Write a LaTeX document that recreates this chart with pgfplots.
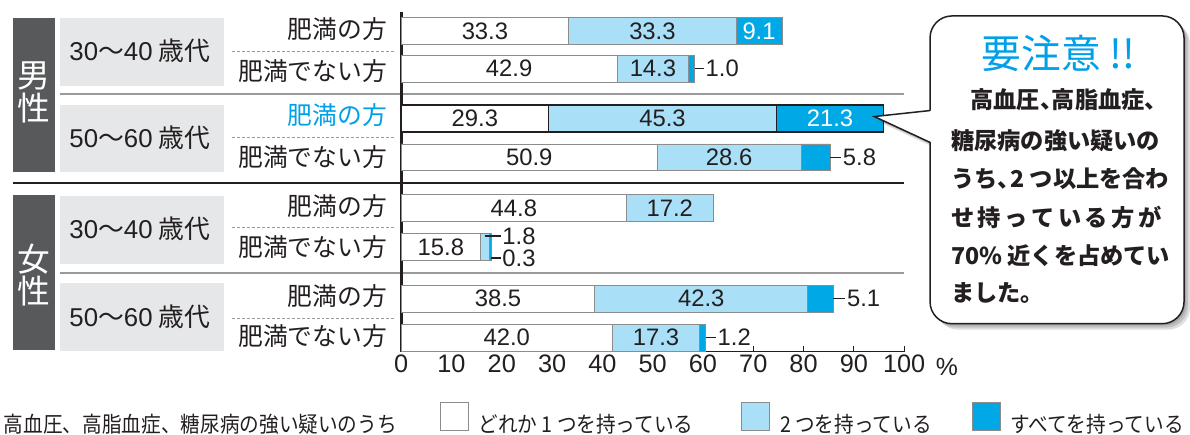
\documentclass[border=0pt]{standalone}
\usepackage{fontspec}
\setmainfont{Liberation Sans}
\newfontfamily\jp{Noto Sans CJK JP}
\newfontfamily\jpc{Noto Sans CJK JP}[FakeStretch=0.9]
\usepackage{pgfplots}
\pgfplotsset{compat=1.18}
\definecolor{txt}{HTML}{231F20}
\definecolor{lblue}{HTML}{A9DFF7}
\definecolor{dblue}{HTML}{00A9E6}
\definecolor{cyantext}{HTML}{00A0E9}
\definecolor{barline}{HTML}{8C8C8C}
\definecolor{darkbox}{HTML}{58595B}
\definecolor{lightbox}{HTML}{E6E7E8}
\definecolor{sepc}{HTML}{9A9A9A}
\newcommand{\fs}[1]{\fontsize{#1}{#1}\selectfont}
\newcommand{\gap}[1]{\rule{#1}{0pt}}
\pgfplotsset{
  base/.style={
    width=505bp, height=341bp, scale only axis,
    xmin=0, xmax=100, ymin=81, ymax=422,
    at={(400bp,81bp)}, anchor=south west,
  }
}
\begin{document}
\begin{tikzpicture}
\begin{scope}[x=1bp,y=1bp]
\path[use as bounding box] (0,0) rectangle (1190,434);
% group boxes
\fill[darkbox] (10,261) rectangle (52,416);
\fill[darkbox] (10,83) rectangle (52,238);
\fill[lightbox] (57,348) rectangle (222,416);
\fill[lightbox] (57,261) rectangle (222,329);
\fill[lightbox] (57,169) rectangle (222,237);
\fill[lightbox] (57,82) rectangle (222,150);
\node[white, font=\jp\fs{33}] at (31,358) {男};
\node[white, font=\jp\fs{33}] at (31,326) {性};
\node[white, font=\jp\fs{33}] at (31,174) {女};
\node[white, font=\jp\fs{33}] at (31,142) {性};
\node[txt, font=\jp\fs{26}] at (137.5,383) {{\rmfamily 30}～{\rmfamily 40} 歳代};
\node[txt, font=\jp\fs{26}] at (137.5,296) {{\rmfamily 50}～{\rmfamily 60} 歳代};
\node[txt, font=\jp\fs{26}] at (137.5,204) {{\rmfamily 30}～{\rmfamily 40} 歳代};
\node[txt, font=\jp\fs{26}] at (137.5,116) {{\rmfamily 50}～{\rmfamily 60} 歳代};
\node[txt, font=\jp\fs{25}, anchor=east, inner sep=0pt] at (386,405) {肥満の方};
\node[txt, font=\jp\fs{25}, anchor=east, inner sep=0pt] at (386,363) {肥満でない方};
\node[cyantext, font=\jp\fs{25}, anchor=east, inner sep=0pt] at (386,318) {肥満の方};
\node[txt, font=\jp\fs{25}, anchor=east, inner sep=0pt] at (386,276) {肥満でない方};
\node[txt, font=\jp\fs{25}, anchor=east, inner sep=0pt] at (386,227) {肥満の方};
\node[txt, font=\jp\fs{25}, anchor=east, inner sep=0pt] at (386,186) {肥満でない方};
\node[txt, font=\jp\fs{25}, anchor=east, inner sep=0pt] at (386,137) {肥満の方};
\node[txt, font=\jp\fs{25}, anchor=east, inner sep=0pt] at (386,97) {肥満でない方};
% separators
\draw[sepc, line width=2bp] (57,340) -- (905,340);
\draw[sepc, line width=2bp] (57,160) -- (905,160);
\draw[txt, line width=2.2bp] (10,250) -- (905,250);
\foreach \yy in {382,296,206,114}
  \draw[sepc, line width=0.8bp, dash pattern=on 3bp off 2bp] (230,\yy) -- (393,\yy);
\node[txt, font=\fs{25}] at (948,66) {\%};
\end{scope}

% main bars
\begin{axis}[base, xbar stacked, bar width=27bp,
  axis x line*=bottom, axis y line*=left,
  x axis line style={txt, line width=1.2bp},
  y axis line style={txt, line width=2.8bp},
  xtick={0,10,...,100}, ytick=\empty,
  tick align=inside, major tick length=6bp,
  xtick style={txt, line width=1bp},
  xticklabel style={font=\fs{25.5}, text=txt},
  /pgf/number format/assume math mode=true,
  legend columns=-1,
  legend image code/.code={\draw[#1, line width=0.8bp] (0bp,-6bp) rectangle (28bp,22bp);},
  legend style={at={(-0.798,-0.1965)}, anchor=west, draw=none, fill=none,
    inner sep=0pt, font=\jpc\fs{22}, text=txt,
    nodes={inner xsep=4bp, inner ysep=0pt}},
]
\addlegendimage{empty legend}
\addlegendentry{高血圧、高脂血症、糖尿病の強い疑いのうち\gap{39bp}}
\addplot[fill=white, draw=barline, line width=0.8bp] coordinates {(33.3,403) (42.9,365) (29.3,315) (50.9,276) (44.8,225) (15.8,186) (38.5,134) (42.0,95)};
\addlegendentry{\gap{6bp}どれか 1 つを持っている\gap{44bp}}
\addplot[fill=lblue, draw=barline, line width=0.8bp] coordinates {(33.3,403) (14.3,365) (45.3,315) (28.6,276) (17.2,225) (1.8,186) (42.3,134) (17.3,95)};
\addlegendentry{\gap{6bp}2 つを持っている\gap{36bp}}
\addplot[fill=dblue, draw=barline, line width=0.8bp] coordinates {(9.1,403) (1.0,365) (21.3,315) (5.8,276) (0,225) (0.3,186) (5.1,134) (1.2,95)};
\addlegendentry{\gap{6bp}すべてを持っている\kern-6bp}
\end{axis}

% highlighted row
\begin{axis}[base, xbar stacked, bar width=27bp, hide axis]
\addplot[fill=white, draw=txt, line width=1.6bp] coordinates {(29.3,315)};
\addplot[fill=lblue, draw=txt, line width=1.6bp] coordinates {(45.3,315)};
\addplot[fill=dblue, draw=txt, line width=1.6bp] coordinates {(21.3,315)};
\end{axis}

% value labels
\begin{axis}[base, hide axis, clip=false]
\addplot[draw=none, mark=none, nodes near coords, point meta=explicit symbolic,
  nodes near coords style={anchor=center, text=txt, font=\fs{24}, inner sep=0pt}]
  coordinates {(16.65,403)[33.3] (49.95,403)[33.3] (21.45,365)[42.9] (50.05,365)[14.3]
  (14.65,315)[29.3] (51.95,315)[45.3] (25.45,276)[50.9] (65.2,276)[28.6]
  (22.4,225)[44.8] (53.4,225)[17.2] (7.9,186)[15.8] (19.25,134)[38.5]
  (59.65,134)[42.3] (21.0,95)[42.0] (50.65,95)[17.3]};
\addplot[draw=none, mark=none, nodes near coords, point meta=explicit symbolic,
  nodes near coords style={anchor=center, text=white, font=\fs{24}, inner sep=0pt}]
  coordinates {(71.15,403)[9.1] (85.25,315)[21.3]};
\addplot[draw=none, mark=none, nodes near coords, point meta=explicit symbolic,
  nodes near coords style={anchor=west, text=txt, font=\fs{24}, inner xsep=1.5bp, inner ysep=0pt}]
  coordinates {(60.2,365)[1.0] (87.5,276)[5.8] (19.8,197)[1.8] (19.8,175)[0.3] (88.3,134)[5.1] (62.6,95)[1.2]};
\addplot[txt, line width=1.3bp, mark=none] coordinates {(58.4,365) (60.2,365)};
\addplot[txt, line width=1.3bp, mark=none] coordinates {(85.3,276) (87.5,276)};
\addplot[txt, line width=1.3bp, mark=none] coordinates {(16.6,197) (19.8,197)};
\addplot[txt, line width=1.3bp, mark=none] coordinates {(17.8,175) (19.8,175)};
\addplot[txt, line width=1.3bp, mark=none] coordinates {(85.9,134) (88.3,134)};
\addplot[txt, line width=1.3bp, mark=none] coordinates {(60.6,95) (62.6,95)};
\end{axis}

% callout
\begin{scope}[x=1bp,y=1bp]
\foreach \d in {2,4,6}{
  \fill[black, opacity=0.13, rounded corners=22bp] (931+\d,109-\d) rectangle (1186+\d,418-\d);
  \fill[black, opacity=0.10] (931+\d,323-\d) -- (875+\d,317-\d) -- (931+\d,291-\d) -- cycle;
}
\draw[txt, line width=1.5bp, fill=white, rounded corners=22bp] (931,109) rectangle (1186,418);
\fill[white] (932.6,323) -- (875,317) -- (932.6,291) -- cycle;
\draw[txt, line width=1.5bp, line join=miter] (931,323) -- (875,317) -- (931,291);
\node[cyantext, font=\jp\fs{40}] at (1060,380) {要注意 !!};
\begin{scope}[every node/.style={txt, font=\jp\bfseries\fs{23.4}, inner sep=0pt}]
\node[anchor=east] at (1170,334) {高血圧、\kern-0.5em 高脂血症、};
\node[anchor=west] at (952,293) {糖尿病の強い疑いの};
\node[anchor=west] at (952,255) {うち、\kern-0.45em 2 つ以上を合わ};
\node[anchor=west] at (952,216) {\makebox[211bp][s]{せ 持 っ て い る 方 が}};
\node[anchor=west] at (952,177) {70\% 近くを占めてい};
\node[anchor=west] at (952,140) {ました。};
\end{scope}
\end{scope}
\end{tikzpicture}
\end{document}
